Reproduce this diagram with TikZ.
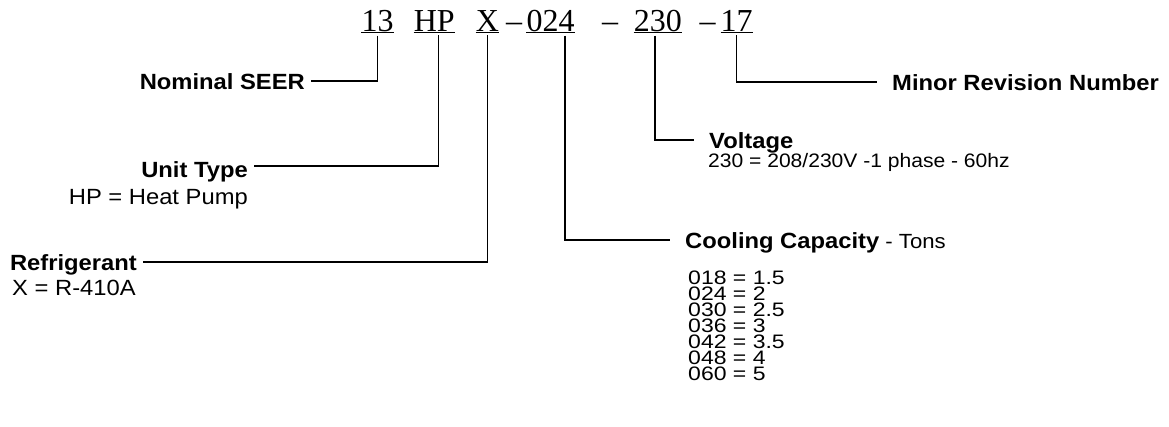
\documentclass[tikz,border=0pt]{standalone}
\usepackage{fontspec}
\setmainfont{Liberation Sans}[FakeStretch=1.08]
\newfontfamily\codefont{Liberation Serif}
\newfontfamily\listfont{Liberation Sans}[FakeStretch=1.18]

\tikzset{
	code/.style={inner sep=0pt, anchor=base, font=\codefont\fontsize{32}{32}\selectfont},
	ltitle/.style={anchor=base east, inner xsep=6pt, inner ysep=0pt, text depth=0pt, font=\bfseries\fontsize{22}{24}\selectfont},
	rtitle/.style={anchor=base west, inner xsep=15pt, inner ysep=0pt, text depth=0pt, font=\bfseries\fontsize{22}{24}\selectfont},
	desc/.style={inner sep=0pt, font=\fontsize{22}{24}\selectfont},
	sdesc/.style={inner sep=0pt, font=\fontsize{19.5}{20}\selectfont},
	item/.style={inner sep=0pt, anchor=base west, font=\listfont\fontsize{19.5}{16}\selectfont},
	conn/.style={line width=1.3pt},
	uline/.style={line width=1.2pt}
}

\begin{document}
\begin{tikzpicture}[x=1pt, y=-1pt]
	\useasboundingbox (0,0) rectangle (1169,426);
	
	% model number
	\node[code] (nseer) at (377.5,31) {13};
	\node[code] (ntype) at (434.2,31) {HP};
	\node[code] (nref) at (487.4,31) {X};
	\node[code] (d1) at (514,31) {–};
	\node[code] (ncap) at (550.5,31) {024};
	\node[code] (d2) at (610,31) {–};
	\node[code] (nvolt) at (657.9,31) {230};
	\node[code] (d3) at (707.5,31) {–};
	\node[code] (nrev) at (736.7,31) {17};
	\foreach \n in {nseer,ntype,nref,ncap,nvolt,nrev}
		\draw[uline] ([yshift=-1.5pt]\n.base west) -- ([yshift=-1.5pt]\n.base east);
	
	% Nominal SEER
	\node[ltitle] (lseer) at (311,89) {Nominal SEER};
	\draw[conn] ([yshift=-4pt]nseer.south) |- (lseer.east);
	
	% Unit Type
	\node[ltitle] (ltype) at (254,177) {Unit Type};
	\node[desc, anchor=base east] (dtype) at (248,204) {HP = Heat Pump};
	\draw[conn] ([xshift=4pt,yshift=-4pt]ntype.south) |- ([yshift=3pt]ltype.east);
	
	% Refrigerant
	\node[ltitle] (lref) at (143,270) {Refrigerant};
	\node[desc, anchor=base west] (dref) at (12,295) {X = R-410A};
	\draw[conn] ([yshift=-4pt]nref.south) |- (lref.east);
	
	% Cooling Capacity
	\node[rtitle] (lcap) at (670,248) {Cooling Capacity{\mdseries\fontsize{20.5}{22}\selectfont{} - Tons}};
	\foreach \code/\tons [count=\i from 0] in {018/1.5, 024/2, 030/2.5, 036/3, 042/3.5, 048/4, 060/5}
		\node[item] (t\i) at (688,{284+16*\i}) {\code\ = \tons};
	\draw[conn] ([xshift=14.5pt,yshift=-4pt]ncap.south) |- (lcap.west);
	
	% Voltage
	\node[rtitle] (lvolt) at (694,148) {Voltage};
	\node[sdesc, anchor=base west] (dvolt) at (708,167) {230 = 208/230V -1 phase - 60hz};
	\draw[conn] ([xshift=-3pt,yshift=-4pt]nvolt.south) |- (lvolt.west);
	
	% Minor Revision Number
	\node[rtitle] (lrev) at (877,90) {Minor Revision Number};
	\draw[conn] ([yshift=-4pt]nrev.south) |- (lrev.west);
\end{tikzpicture}
\end{document}
